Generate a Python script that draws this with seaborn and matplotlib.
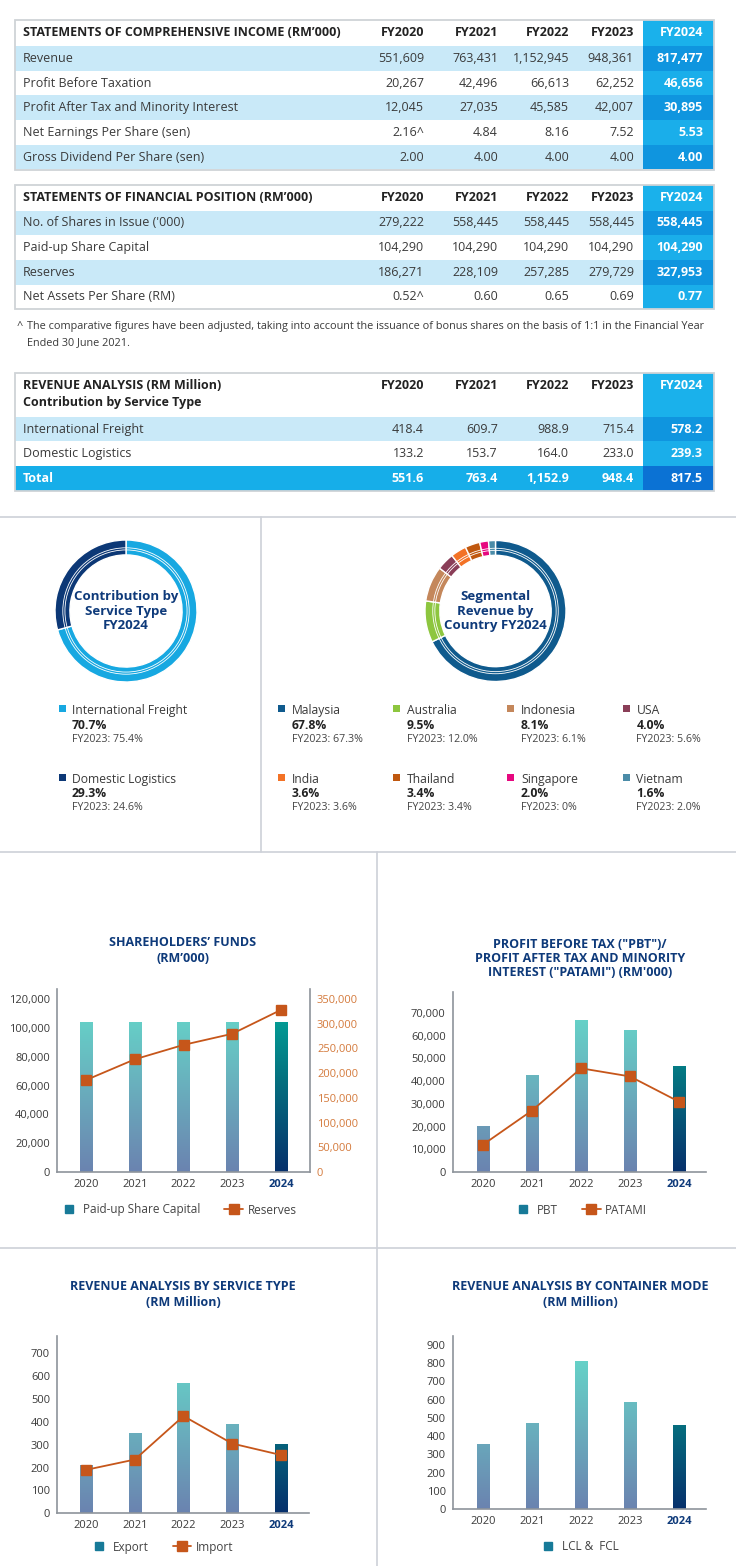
import numpy as np
import matplotlib
matplotlib.use('Agg')
import matplotlib.pyplot as plt
from matplotlib.colors import LinearSegmentedColormap
from matplotlib.patches import Rectangle, Circle
from matplotlib.lines import Line2D
from matplotlib.ticker import FuncFormatter
import seaborn as sns

sns.set_style('white')
plt.rcParams['font.family'] = ['Open Sans', 'DejaVu Sans']

W, H = 736, 1566

# ---- table data ----
fy_cols = ['FY2020', 'FY2021', 'FY2022', 'FY2023', 'FY2024']

income_title = ['STATEMENTS OF COMPREHENSIVE INCOME (RM\u2019000)']
income_labels = ['Revenue', 'Profit Before Taxation', 'Profit After Tax and Minority Interest',
                 'Net Earnings Per Share (sen)', 'Gross Dividend Per Share (sen)']
income_vals = [['551,609', '763,431', '1,152,945', '948,361', '817,477'],
               ['20,267', '42,496', '66,613', '62,252', '46,656'],
               ['12,045', '27,035', '45,585', '42,007', '30,895'],
               ['2.16^', '4.84', '8.16', '7.52', '5.53'],
               ['2.00', '4.00', '4.00', '4.00', '4.00']]

position_title = ['STATEMENTS OF FINANCIAL POSITION (RM\u2019000)']
position_labels = ['No. of Shares in Issue (\'000)', 'Paid-up Share Capital', 'Reserves',
                   'Net Assets Per Share (RM)']
position_vals = [['279,222', '558,445', '558,445', '558,445', '558,445'],
                 ['104,290', '104,290', '104,290', '104,290', '104,290'],
                 ['186,271', '228,109', '257,285', '279,729', '327,953'],
                 ['0.52^', '0.60', '0.65', '0.69', '0.77']]

footnote = ['The comparative figures have been adjusted, taking into account the issuance of bonus shares on the basis of 1:1 in the Financial Year',
            'Ended 30 June 2021.']

revenue_title = ['REVENUE ANALYSIS (RM Million)', 'Contribution by Service Type']
revenue_labels = ['International Freight', 'Domestic Logistics', 'Total']
revenue_vals = [['418.4', '609.7', '988.9', '715.4', '578.2'],
                ['133.2', '153.7', '164.0', '233.0', '239.3'],
                ['551.6', '763.4', '1,152.9', '948.4', '817.5']]

# ---- donut data ----
service_names = ['International Freight', 'Domestic Logistics']
service_pct = [70.7, 29.3]
service_prev = [75.4, 24.6]
service_colors = ['#17a8e1', '#0c3876']

country_names = ['Malaysia', 'Australia', 'Indonesia', 'USA', 'India', 'Thailand', 'Singapore', 'Vietnam']
country_pct = [67.8, 9.5, 8.1, 4.0, 3.6, 3.4, 2.0, 1.6]
country_prev = [67.3, 12.0, 6.1, 5.6, 3.6, 3.4, 0, 2.0]
country_colors = ['#0f5a8d', '#8dc63f', '#c4875b', '#8a3e58', '#f37226', '#c0580f', '#e6087f', '#4b8ca8']

# ---- chart data ----
years = ['2020', '2021', '2022', '2023', '2024']
paidup_capital = [104290, 104290, 104290, 104290, 104290]
reserves = [186271, 228109, 257285, 279729, 327953]
pbt = [20267, 42496, 66613, 62252, 46656]
patami = [12045, 27035, 45585, 42007, 30895]
export_rev = [210, 350, 570, 390, 305]
import_rev = [190, 235, 425, 305, 255]
lcl_fcl = [355, 470, 812, 586, 463]

NAVY = '#0e3a7a'
ORANGE = '#c6561a'
TXT = '#3a3a3a'
LIGHT = '#c9e9f8'

fig = plt.figure(figsize=(W / 100, H / 100), dpi=100)
bg = fig.add_axes([0, 0, 1, 1])
bg.set_xlim(0, W)
bg.set_ylim(H, 0)
bg.axis('off')


def frac(x0, y0, x1, y1):
    return [x0 / W, 1 - y1 / H, (x1 - x0) / W, (y1 - y0) / H]


# ---------------- tables ----------------
col_right = [424, 498, 569, 634, 703]
TX0, TX1, C24 = 15, 714, 643
FS = 9


def draw_table(top, head_h, title_lines, labels, values, kinds):
    bg.add_patch(Rectangle((C24, top), TX1 - C24, head_h, fc='#1ab1eb', lw=0))
    for k, line in enumerate(title_lines):
        bg.text(23, top + 12.5 + k * 17, line, fontsize=FS, fontweight='bold',
                color='#222222', va='center')
    for j, c in enumerate(fy_cols):
        bg.text(col_right[j], top + 12.5, c, fontsize=FS, fontweight='bold',
                color='white' if j == 4 else '#222222', va='center', ha='right')
    y = top + head_h
    for lab, vals, kind in zip(labels, values, kinds):
        rh = 24.7
        if kind == 'light':
            bg.add_patch(Rectangle((TX0, y), C24 - TX0, rh, fc=LIGHT, lw=0))
            c24 = '#0f95df'
        elif kind == 'total':
            bg.add_patch(Rectangle((TX0, y), C24 - TX0, rh, fc='#16aee9', lw=0))
            c24 = '#0b72d4'
        else:
            c24 = '#1aaeea'
        bg.add_patch(Rectangle((C24, y), TX1 - C24, rh, fc=c24, lw=0))
        tot = kind == 'total'
        bg.text(23, y + rh / 2, lab, fontsize=FS, va='center',
                color='white' if tot else TXT, fontweight='bold' if tot else 'normal')
        for j, v in enumerate(vals):
            last = j == 4
            bg.text(col_right[j], y + rh / 2, v, fontsize=FS, va='center', ha='right',
                    color='white' if (last or tot) else TXT,
                    fontweight='bold' if (last or tot) else 'normal')
        y += rh
    bg.add_patch(Rectangle((TX0, top), TX1 - TX0, y - top, fill=False, ec='#cfd3d7', lw=1.3))


draw_table(20, 26, income_title, income_labels, income_vals,
           ['light', 'white', 'light', 'white', 'light'])
draw_table(185, 25.5, position_title, position_labels, position_vals,
           ['light', 'white', 'light', 'white'])
bg.text(17, 327, '^', fontsize=7.8, color=TXT, va='center')
bg.text(27, 326, footnote[0], fontsize=7.8, color=TXT, va='center')
bg.text(27, 342.5, footnote[1], fontsize=7.8, color=TXT, va='center')
draw_table(372.7, 44, revenue_title, revenue_labels, revenue_vals,
           ['light', 'white', 'total'])

# ---------------- separators ----------------
SEP = '#cdd1d8'
bg.plot([0, W], [517, 517], color=SEP, lw=1.2)
bg.plot([260.5, 260.5], [517, 852], color=SEP, lw=1.2)
bg.plot([0, W], [852, 852], color=SEP, lw=1.2)
bg.plot([377, 377], [852, H], color=SEP, lw=1.2)
bg.plot([0, W], [1248, 1248], color=SEP, lw=1.2)


# ---------------- donuts ----------------
def donut(cx, cy, r, pct, colors, label):
    ax = fig.add_axes(frac(cx - r, cy - r, cx + r, cy + r))
    ax.pie(pct, colors=colors, startangle=90, counterclock=False,
           wedgeprops=dict(width=0.21, edgecolor='white', linewidth=1.0))
    for rr in (0.86, 0.89):
        ax.add_patch(Circle((0, 0), rr, fill=False, ec='white', lw=0.6))
    ax.set_xlim(-1.0, 1.0)
    ax.set_ylim(-1.0, 1.0)
    ax.set_aspect('equal')
    ax.axis('off')
    ax.text(0, 0, label, ha='center', va='center', fontsize=9.5, fontweight='bold',
            color=NAVY, linespacing=1.12)


donut(126, 611, 71, service_pct, service_colors, 'Contribution by\nService Type\nFY2024')
donut(495.5, 611, 70.5, country_pct, country_colors, 'Segmental\nRevenue by\nCountry FY2024')


def fmt_prev(v):
    return 'FY2023: 0%' if v == 0 else f'FY2023: {v:.1f}%'


def legend_item(sx, tx, y, color, name, pct, prev):
    bg.add_patch(Rectangle((sx - 3.5, y - 5.5), 7, 7, fc=color, lw=0))
    bg.text(tx, y, name, fontsize=8.7, color=TXT, va='center')
    bg.text(tx, y + 14.5, f'{pct:.1f}%', fontsize=8.7, fontweight='bold', color='#222222', va='center')
    bg.text(tx, y + 28.5, fmt_prev(prev), fontsize=7.7, color='#444444', va='center')


rows_y = [710.7, 779.3]
for i in range(2):
    legend_item(62, 71.5, rows_y[i], service_colors[i], service_names[i], service_pct[i], service_prev[i])
sq_x = [281, 396.7, 510.5, 626]
tx_x = [291.5, 406.7, 521, 636.5]
for i in range(8):
    legend_item(sq_x[i % 4], tx_x[i % 4], rows_y[i // 4], country_colors[i],
                country_names[i], country_pct[i], country_prev[i])

# ---------------- bar charts ----------------
cm_lo = LinearSegmentedColormap.from_list('lo', ['#6b83b0', '#69b2be', '#64dfcc'])
cm_hi = LinearSegmentedColormap.from_list('hi', ['#07306c', '#05707f', '#02b3a0'])
comma = FuncFormatter(lambda v, p: f'{v:,.0f}')


def style_axis(ax, ylim, yticks, xlim):
    grad = np.linspace(0, 1, 256).reshape(-1, 1)
    for i, p in enumerate(list(ax.patches)):
        x0, w = p.get_x(), p.get_width()
        im = ax.imshow(grad, cmap=cm_hi if i == 4 else cm_lo, origin='lower', aspect='auto',
                       extent=[x0, x0 + w, 0, ylim], zorder=2, interpolation='bilinear')
        im.set_clip_path(p)
        p.set_facecolor('none')
        p.set_linewidth(0)
    ax.set_xlim(*xlim)
    ax.set_ylim(0, ylim)
    ax.set_yticks(yticks)
    ax.yaxis.set_major_formatter(comma)
    ax.set_xticks(range(len(years)))
    ax.set_xticklabels(years)
    ax.set_xlabel('')
    ax.set_ylabel('')
    ax.patch.set_alpha(0)
    for s in ('top', 'right'):
        ax.spines[s].set_visible(False)
    for s in ('left', 'bottom'):
        ax.spines[s].set_color('#8e949b')
        ax.spines[s].set_linewidth(1.2)
    ax.tick_params(length=0, pad=5, labelsize=8, labelcolor=TXT)
    for lab in ax.get_xticklabels():
        if lab.get_text() == '2024':
            lab.set_fontweight('bold')
            lab.set_color(NAVY)


def chart_title(cx, ys, lines):
    for y, t in zip(ys, lines):
        bg.text(cx, y, t, ha='center', va='center', fontsize=9, fontweight='bold', color=NAVY)


bar_handle = Line2D([], [], marker='s', ls='none', color='#177a98', markersize=6)
line_handle = Line2D([], [], marker='s', color=ORANGE, markersize=6.5, lw=1.3)


def add_legend(ax, handles, labels, x, y):
    ax.legend(handles, labels, loc='center left', bbox_to_anchor=(x / W, 1 - y / H),
              bbox_transform=fig.transFigure, frameon=False, ncol=len(labels),
              handlelength=1.6, handletextpad=0.4, columnspacing=2.0, borderpad=0,
              borderaxespad=0, fontsize=8.5, labelcolor='#444444')


# Shareholders' funds
chart_title(183, [943, 958], ['SHAREHOLDERS\u2019 FUNDS', '(RM\u2019000)'])
ax1 = fig.add_axes(frac(57, 989, 310, 1172))
sns.barplot(x=years, y=paidup_capital, ax=ax1, width=0.25, color='#6aa7bc', saturation=1)
style_axis(ax1, 127000, range(0, 120001, 20000), (-0.6, 4.6))
ax1b = ax1.twinx()
ax1b.plot(range(len(years)), reserves, color=ORANGE, lw=1.3, marker='s', markersize=6.5, zorder=5)
ax1b.set_ylim(0, 127000 * 350 / 120)
ax1b.set_yticks(range(0, 350001, 50000))
ax1b.yaxis.set_major_formatter(comma)
ax1b.tick_params(length=0, pad=5, labelsize=8, labelcolor='#d47a3c')
ax1b.spines['right'].set_color('#8e949b')
ax1b.spines['right'].set_linewidth(1.2)
for s in ('top', 'left', 'bottom'):
    ax1b.spines[s].set_visible(False)
add_legend(ax1b, [bar_handle, line_handle], ['Paid-up Share Capital', 'Reserves'], 59.5, 1210)

# PBT / PATAMI
chart_title(580, [944, 958, 972], ['PROFIT BEFORE TAX ("PBT")/', 'PROFIT AFTER TAX AND MINORITY',
                                   'INTEREST ("PATAMI") (RM\'000)'])
ax2 = fig.add_axes(frac(452.7, 992.3, 706, 1172))
sns.barplot(x=years, y=pbt, ax=ax2, width=0.245, color='#6aa7bc', saturation=1)
style_axis(ax2, 79000, range(0, 70001, 10000), (-0.62, 4.55))
ax2.plot(range(len(years)), patami, color=ORANGE, lw=1.3, marker='s', markersize=6.5, zorder=5)
add_legend(ax2, [bar_handle, line_handle], ['PBT', 'PATAMI'], 513.5, 1210)

# Revenue by service type
chart_title(183, [1286, 1302], ['REVENUE ANALYSIS BY SERVICE TYPE', '(RM Million)'])
ax3 = fig.add_axes(frac(57, 1336, 309, 1513.3))
sns.barplot(x=years, y=export_rev, ax=ax3, width=0.25, color='#6aa7bc', saturation=1)
style_axis(ax3, 775, range(0, 701, 100), (-0.6, 4.58))
ax3.plot(range(len(years)), import_rev, color=ORANGE, lw=1.3, marker='s', markersize=6.5, zorder=5)
add_legend(ax3, [bar_handle, line_handle], ['Export', 'Import'], 89.5, 1547)

# Revenue by container mode
chart_title(580, [1286, 1302], ['REVENUE ANALYSIS BY CONTAINER MODE', '(RM Million)'])
ax4 = fig.add_axes(frac(452.7, 1336, 706, 1509))
sns.barplot(x=years, y=lcl_fcl, ax=ax4, width=0.245, color='#6aa7bc', saturation=1)
style_axis(ax4, 949, range(0, 901, 100), (-0.62, 4.55))
add_legend(ax4, [bar_handle], ['LCL &  FCL'], 538.5, 1547)

fig.savefig('out.png', dpi=100)
